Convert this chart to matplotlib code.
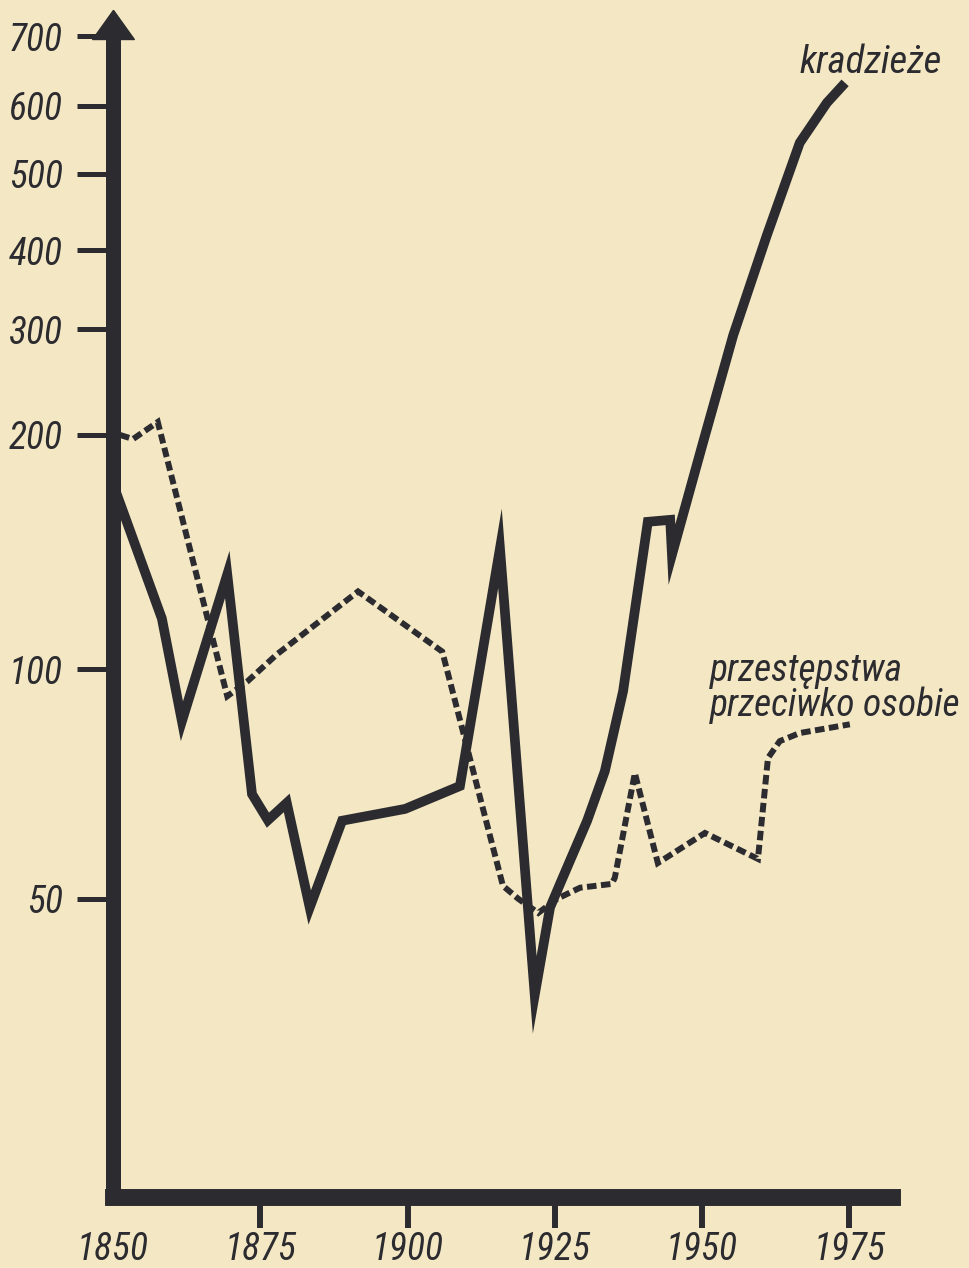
import numpy as np
import matplotlib
matplotlib.use("Agg")
import matplotlib.pyplot as plt
from matplotlib.path import Path
from matplotlib.ticker import NullFormatter

# values (its own non-linear vertical scale)
theft_years = [1850.5, 1858.3, 1861.7, 1869.4, 1873.6, 1876.3, 1879.5, 1883.4,
               1888.9, 1899.6, 1908.9, 1915.7, 1921.6, 1924.2, 1925.9, 1930.5,
               1933.5, 1936.6, 1940.8, 1944.6, 1944.9, 1950.2, 1955.3, 1961.0,
               1966.6, 1971.2, 1974.3]
theft_values = [169.0, 116.2, 85.5, 132.4, 68.6, 63.4, 66.8, 48.7,
                63.3, 65.6, 70.3, 143.0, 37.4, 48.7, 52.3, 63.3,
                73.5, 93.6, 154.7, 155.6, 140.4, 195.9, 293.2, 417.8,
                543.3, 604.0, 631.2]

person_years = [1851.2, 1853.4, 1857.6, 1869.4, 1872.8, 1877.8, 1891.6, 1905.9,
                1916.2, 1918.8, 1922.2, 1925.4, 1929.3, 1934.7, 1935.2, 1938.6,
                1942.5, 1950.5, 1959.5, 1961.2, 1963.2, 1966.6, 1975.1]
person_values = [200.0, 197.6, 210.2, 92.2, 96.4, 104.5, 125.9, 105.4,
                 52.0, 50.0, 47.9, 50.0, 51.7, 52.3, 53.3, 73.1,
                 55.7, 61.0, 56.4, 76.5, 80.5, 82.5, 84.7]

y_ticks = [50, 100, 200, 300, 400, 500, 600, 700]
x_ticks = [1850, 1875, 1900, 1925, 1950, 1975]

# where the drawer put each gridline value (pixels from the top of the page)
scale_values = [10, 50, 100, 200, 300, 400, 500, 600, 700, 1000]
scale_px = [1432, 898, 668, 433, 327, 248, 171, 103, 33, -129]

INK = "#2c2c30"
PAPER = "#f4e8c4"
FONT = ["Liberation Sans Narrow", "Roboto Condensed", "Open Sans Condensed",
        "DejaVu Sans"]
TXT = dict(family=FONT, style="italic", stretch="condensed", color=INK)

knot_v = np.log(scale_values)
knot_px = np.array(scale_px, dtype=float)


def fwd(v):
    v = np.clip(np.asarray(v, dtype=float), 1e-3, None)
    return -np.interp(np.log(v), knot_v, knot_px)


def inv(t):
    return np.exp(np.interp(-np.asarray(t, dtype=float), knot_px[::-1], knot_v[::-1]))


W, H = 969, 1268
fig = plt.figure(figsize=(W / 100, H / 100), dpi=100, facecolor=PAPER)
ax = fig.add_axes([113 / W, (H - 1197) / H, (892 - 113) / W, (1197 - 36) / H])
ax.set_facecolor("none")
ax.set_yscale("function", functions=(fwd, inv))
ax.set_xlim(1850, 1850 + (892 - 113) / 5.89)
ax.set_ylim(inv(-1197), inv(-36))

for side in ("top", "right"):
    ax.spines[side].set_visible(False)
ax.spines["left"].set_linewidth(10.8)
ax.spines["bottom"].set_linewidth(12.2)
for side in ("left", "bottom"):
    ax.spines[side].set_color(INK)
    ax.spines[side].set_capstyle("projecting")

# arrow head on top of the vertical axis
head = Path([(0, 1.4), (-1, 0), (1, 0), (0, 1.4)])
ax.plot([1850], [ax.get_ylim()[1]], marker=head, ms=42, color=INK,
        clip_on=False, zorder=5)

ax.plot(theft_years, theft_values, color=INK, lw=7,
        solid_joinstyle="miter", solid_capstyle="butt", zorder=3)
ax.plot(person_years, person_values, color=INK, lw=4.3, dashes=(1.6, 0.75),
        dash_capstyle="butt", dash_joinstyle="miter", zorder=3)

ax.set_yticks(y_ticks)
ax.set_yticks(y_ticks, minor=True)
ax.set_yticklabels([str(v) for v in y_ticks], fontsize=27, **TXT)
ax.set_xticks(x_ticks)
ax.set_xticks(x_ticks[1:], minor=True)
ax.set_xticklabels([str(v) for v in x_ticks], fontsize=27, **TXT)
ax.yaxis.set_minor_formatter(NullFormatter())
ax.xaxis.set_minor_formatter(NullFormatter())
ax.tick_params(axis="y", which="major", direction="out", length=26, width=3.6,
               color=INK, pad=10)
ax.tick_params(axis="y", which="minor", direction="in", length=11, width=3.6,
               color=INK)
ax.tick_params(axis="x", which="major", direction="out", length=22.3, width=4.3,
               color=INK, pad=2)
ax.tick_params(axis="x", which="minor", direction="in", length=14.4, width=4.3,
               color=INK)
ax.xaxis.get_major_ticks()[0].tick1line.set_visible(False)

ax.text(1966.6, 645, "kradzieże", fontsize=28, ha="left", va="baseline", **TXT)
ax.text(1951.4, 96.4, "przestępstwa", fontsize=27, ha="left", va="baseline",
        **TXT)
ax.text(1951.4, 86.8, "przeciwko osobie", fontsize=27, ha="left",
        va="baseline", **TXT)

fig.savefig("out.png", dpi=100, facecolor=PAPER)
